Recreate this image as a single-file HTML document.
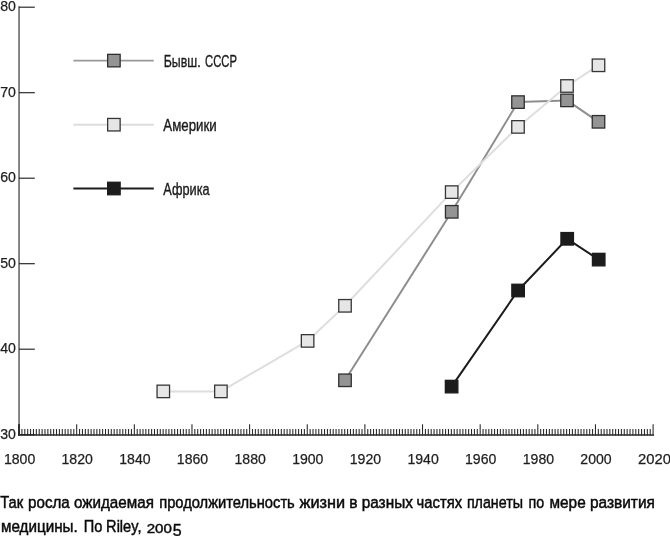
<!DOCTYPE html>
<html><head><meta charset="utf-8"><title>chart</title>
<style>
html,body{margin:0;padding:0;background:#fff;}
svg{display:block;will-change:transform;}
text{font-family:"Liberation Sans",sans-serif;}
</style></head><body>
<svg width="670" height="536" viewBox="0 0 670 536">
<rect width="670" height="536" fill="#fff"/>

<line x1="19.05" y1="6.3" x2="19.05" y2="435.5" stroke="#787878" stroke-width="1.8"/>
<line x1="18.1" y1="435.0" x2="654" y2="435.0" stroke="#2a2a2a" stroke-width="1.5"/>
<line x1="19" y1="434.70" x2="34.8" y2="434.70" stroke="#222" stroke-width="1.15"/>
<line x1="19" y1="349.20" x2="34.8" y2="349.20" stroke="#222" stroke-width="1.15"/>
<line x1="19" y1="263.70" x2="34.8" y2="263.70" stroke="#222" stroke-width="1.15"/>
<line x1="19" y1="178.20" x2="34.8" y2="178.20" stroke="#222" stroke-width="1.15"/>
<line x1="19" y1="92.70" x2="34.8" y2="92.70" stroke="#222" stroke-width="1.15"/>
<line x1="19" y1="7.20" x2="34.8" y2="7.20" stroke="#222" stroke-width="1.15"/>
<path d="M19.05 424.2V435.5M21.93 428.9V435.5M24.81 428.9V435.5M27.70 428.9V435.5M30.58 428.9V435.5M33.46 428.9V435.5M36.34 428.9V435.5M39.22 428.9V435.5M42.11 428.9V435.5M44.99 428.9V435.5M47.87 428.9V435.5M50.75 428.9V435.5M53.63 428.9V435.5M56.52 428.9V435.5M59.40 428.9V435.5M62.28 428.9V435.5M65.16 428.9V435.5M68.04 428.9V435.5M70.93 428.9V435.5M73.81 428.9V435.5M76.69 424.2V435.5M79.57 428.9V435.5M82.45 428.9V435.5M85.34 428.9V435.5M88.22 428.9V435.5M91.10 428.9V435.5M93.98 428.9V435.5M96.86 428.9V435.5M99.75 428.9V435.5M102.63 428.9V435.5M105.51 428.9V435.5M108.39 428.9V435.5M111.27 428.9V435.5M114.16 428.9V435.5M117.04 428.9V435.5M119.92 428.9V435.5M122.80 428.9V435.5M125.68 428.9V435.5M128.57 428.9V435.5M131.45 428.9V435.5M134.33 424.2V435.5M137.21 428.9V435.5M140.09 428.9V435.5M142.98 428.9V435.5M145.86 428.9V435.5M148.74 428.9V435.5M151.62 428.9V435.5M154.50 428.9V435.5M157.39 428.9V435.5M160.27 428.9V435.5M163.15 428.9V435.5M166.03 428.9V435.5M168.91 428.9V435.5M171.80 428.9V435.5M174.68 428.9V435.5M177.56 428.9V435.5M180.44 428.9V435.5M183.32 428.9V435.5M186.21 428.9V435.5M189.09 428.9V435.5M191.97 424.2V435.5M194.85 428.9V435.5M197.73 428.9V435.5M200.62 428.9V435.5M203.50 428.9V435.5M206.38 428.9V435.5M209.26 428.9V435.5M212.14 428.9V435.5M215.03 428.9V435.5M217.91 428.9V435.5M220.79 428.9V435.5M223.67 428.9V435.5M226.55 428.9V435.5M229.44 428.9V435.5M232.32 428.9V435.5M235.20 428.9V435.5M238.08 428.9V435.5M240.96 428.9V435.5M243.85 428.9V435.5M246.73 428.9V435.5M249.61 424.2V435.5M252.49 428.9V435.5M255.37 428.9V435.5M258.26 428.9V435.5M261.14 428.9V435.5M264.02 428.9V435.5M266.90 428.9V435.5M269.78 428.9V435.5M272.67 428.9V435.5M275.55 428.9V435.5M278.43 428.9V435.5M281.31 428.9V435.5M284.19 428.9V435.5M287.08 428.9V435.5M289.96 428.9V435.5M292.84 428.9V435.5M295.72 428.9V435.5M298.60 428.9V435.5M301.49 428.9V435.5M304.37 428.9V435.5M307.25 424.2V435.5M310.13 428.9V435.5M313.01 428.9V435.5M315.90 428.9V435.5M318.78 428.9V435.5M321.66 428.9V435.5M324.54 428.9V435.5M327.42 428.9V435.5M330.31 428.9V435.5M333.19 428.9V435.5M336.07 428.9V435.5M338.95 428.9V435.5M341.83 428.9V435.5M344.72 428.9V435.5M347.60 428.9V435.5M350.48 428.9V435.5M353.36 428.9V435.5M356.24 428.9V435.5M359.13 428.9V435.5M362.01 428.9V435.5M364.89 424.2V435.5M367.77 428.9V435.5M370.65 428.9V435.5M373.54 428.9V435.5M376.42 428.9V435.5M379.30 428.9V435.5M382.18 428.9V435.5M385.06 428.9V435.5M387.95 428.9V435.5M390.83 428.9V435.5M393.71 428.9V435.5M396.59 428.9V435.5M399.47 428.9V435.5M402.36 428.9V435.5M405.24 428.9V435.5M408.12 428.9V435.5M411.00 428.9V435.5M413.88 428.9V435.5M416.77 428.9V435.5M419.65 428.9V435.5M422.53 424.2V435.5M425.41 428.9V435.5M428.29 428.9V435.5M431.18 428.9V435.5M434.06 428.9V435.5M436.94 428.9V435.5M439.82 428.9V435.5M442.70 428.9V435.5M445.59 428.9V435.5M448.47 428.9V435.5M451.35 428.9V435.5M454.23 428.9V435.5M457.11 428.9V435.5M460.00 428.9V435.5M462.88 428.9V435.5M465.76 428.9V435.5M468.64 428.9V435.5M471.52 428.9V435.5M474.41 428.9V435.5M477.29 428.9V435.5M480.17 424.2V435.5M483.05 428.9V435.5M485.93 428.9V435.5M488.82 428.9V435.5M491.70 428.9V435.5M494.58 428.9V435.5M497.46 428.9V435.5M500.34 428.9V435.5M503.23 428.9V435.5M506.11 428.9V435.5M508.99 428.9V435.5M511.87 428.9V435.5M514.75 428.9V435.5M517.64 428.9V435.5M520.52 428.9V435.5M523.40 428.9V435.5M526.28 428.9V435.5M529.16 428.9V435.5M532.05 428.9V435.5M534.93 428.9V435.5M537.81 424.2V435.5M540.69 428.9V435.5M543.57 428.9V435.5M546.46 428.9V435.5M549.34 428.9V435.5M552.22 428.9V435.5M555.10 428.9V435.5M557.98 428.9V435.5M560.87 428.9V435.5M563.75 428.9V435.5M566.63 428.9V435.5M569.51 428.9V435.5M572.39 428.9V435.5M575.28 428.9V435.5M578.16 428.9V435.5M581.04 428.9V435.5M583.92 428.9V435.5M586.80 428.9V435.5M589.69 428.9V435.5M592.57 428.9V435.5M595.45 424.2V435.5M598.33 428.9V435.5M601.21 428.9V435.5M604.10 428.9V435.5M606.98 428.9V435.5M609.86 428.9V435.5M612.74 428.9V435.5M615.62 428.9V435.5M618.51 428.9V435.5M621.39 428.9V435.5M624.27 428.9V435.5M627.15 428.9V435.5M630.03 428.9V435.5M632.92 428.9V435.5M635.80 428.9V435.5M638.68 428.9V435.5M641.56 428.9V435.5M644.44 428.9V435.5M647.33 428.9V435.5M650.21 428.9V435.5M653.09 424.2V435.5" stroke="#262626" stroke-width="1.05" fill="none"/>
<line x1="19.05" y1="424.2" x2="19.05" y2="435.6" stroke="#2a2a2a" stroke-width="1.8"/>
<text x="0.2" y="438.7" font-size="15.2" fill="#1e1e1e" stroke="#1e1e1e" stroke-width="0.25" textLength="15.7" lengthAdjust="spacingAndGlyphs">30</text>
<text x="0.2" y="353.2" font-size="15.2" fill="#1e1e1e" stroke="#1e1e1e" stroke-width="0.25" textLength="15.7" lengthAdjust="spacingAndGlyphs">40</text>
<text x="0.2" y="267.7" font-size="15.2" fill="#1e1e1e" stroke="#1e1e1e" stroke-width="0.25" textLength="15.7" lengthAdjust="spacingAndGlyphs">50</text>
<text x="0.2" y="182.2" font-size="15.2" fill="#1e1e1e" stroke="#1e1e1e" stroke-width="0.25" textLength="15.7" lengthAdjust="spacingAndGlyphs">60</text>
<text x="0.2" y="96.7" font-size="15.2" fill="#1e1e1e" stroke="#1e1e1e" stroke-width="0.25" textLength="15.7" lengthAdjust="spacingAndGlyphs">70</text>
<text x="0.2" y="11.2" font-size="15.2" fill="#1e1e1e" stroke="#1e1e1e" stroke-width="0.25" textLength="15.7" lengthAdjust="spacingAndGlyphs">80</text>
<text x="19.6" y="464" font-size="14.8" fill="#1e1e1e" stroke="#1e1e1e" stroke-width="0.25" text-anchor="middle" textLength="31.3" lengthAdjust="spacingAndGlyphs">1800</text>
<text x="77.2" y="464" font-size="14.8" fill="#1e1e1e" stroke="#1e1e1e" stroke-width="0.25" text-anchor="middle" textLength="31.3" lengthAdjust="spacingAndGlyphs">1820</text>
<text x="134.9" y="464" font-size="14.8" fill="#1e1e1e" stroke="#1e1e1e" stroke-width="0.25" text-anchor="middle" textLength="31.3" lengthAdjust="spacingAndGlyphs">1840</text>
<text x="192.5" y="464" font-size="14.8" fill="#1e1e1e" stroke="#1e1e1e" stroke-width="0.25" text-anchor="middle" textLength="31.3" lengthAdjust="spacingAndGlyphs">1860</text>
<text x="250.2" y="464" font-size="14.8" fill="#1e1e1e" stroke="#1e1e1e" stroke-width="0.25" text-anchor="middle" textLength="31.3" lengthAdjust="spacingAndGlyphs">1880</text>
<text x="307.8" y="464" font-size="14.8" fill="#1e1e1e" stroke="#1e1e1e" stroke-width="0.25" text-anchor="middle" textLength="31.3" lengthAdjust="spacingAndGlyphs">1900</text>
<text x="365.4" y="464" font-size="14.8" fill="#1e1e1e" stroke="#1e1e1e" stroke-width="0.25" text-anchor="middle" textLength="31.3" lengthAdjust="spacingAndGlyphs">1920</text>
<text x="423.1" y="464" font-size="14.8" fill="#1e1e1e" stroke="#1e1e1e" stroke-width="0.25" text-anchor="middle" textLength="31.3" lengthAdjust="spacingAndGlyphs">1940</text>
<text x="480.7" y="464" font-size="14.8" fill="#1e1e1e" stroke="#1e1e1e" stroke-width="0.25" text-anchor="middle" textLength="31.3" lengthAdjust="spacingAndGlyphs">1960</text>
<text x="538.4" y="464" font-size="14.8" fill="#1e1e1e" stroke="#1e1e1e" stroke-width="0.25" text-anchor="middle" textLength="31.3" lengthAdjust="spacingAndGlyphs">1980</text>
<text x="596.0" y="464" font-size="14.8" fill="#1e1e1e" stroke="#1e1e1e" stroke-width="0.25" text-anchor="middle" textLength="31.3" lengthAdjust="spacingAndGlyphs">2000</text>
<text x="638.0" y="464" font-size="14.8" fill="#1e1e1e" stroke="#1e1e1e" stroke-width="0.25" textLength="33" lengthAdjust="spacingAndGlyphs">2020</text>
<polyline points="345,380.3 451.7,211.8 518,102.1 567,100.4 598.5,121.8" fill="none" stroke="#8e8e8e" stroke-width="2" stroke-linejoin="round"/>
<polyline points="163.3,391.4 220.9,391.4 307.6,340.9 345,305.8 451.7,192.1 518,126.9 567,86 598.5,65.3" fill="none" stroke="#dedede" stroke-width="2" stroke-linejoin="round"/>
<polyline points="451.6,386.6 518.1,290.5 567.2,238.8 598.7,259.6" fill="none" stroke="#1c1c1c" stroke-width="2" stroke-linejoin="round"/>
<rect x="157.05" y="385.15" width="12.5" height="12.5" fill="#e6e6e6" stroke="#363636" stroke-width="1.3"/><rect x="214.65" y="385.15" width="12.5" height="12.5" fill="#e6e6e6" stroke="#363636" stroke-width="1.3"/><rect x="301.35" y="334.65" width="12.5" height="12.5" fill="#e6e6e6" stroke="#363636" stroke-width="1.3"/><rect x="338.75" y="299.55" width="12.5" height="12.5" fill="#e6e6e6" stroke="#363636" stroke-width="1.3"/><rect x="445.45" y="185.85" width="12.5" height="12.5" fill="#e6e6e6" stroke="#363636" stroke-width="1.3"/><rect x="511.75" y="120.65" width="12.5" height="12.5" fill="#e6e6e6" stroke="#363636" stroke-width="1.3"/><rect x="560.75" y="79.75" width="12.5" height="12.5" fill="#e6e6e6" stroke="#363636" stroke-width="1.3"/><rect x="592.25" y="59.05" width="12.5" height="12.5" fill="#e6e6e6" stroke="#363636" stroke-width="1.3"/>
<rect x="338.75" y="374.05" width="12.5" height="12.5" fill="#949494" stroke="#2e2e2e" stroke-width="1.3"/><rect x="445.45" y="205.55" width="12.5" height="12.5" fill="#949494" stroke="#2e2e2e" stroke-width="1.3"/><rect x="511.75" y="95.85" width="12.5" height="12.5" fill="#949494" stroke="#2e2e2e" stroke-width="1.3"/><rect x="560.75" y="94.15" width="12.5" height="12.5" fill="#949494" stroke="#2e2e2e" stroke-width="1.3"/><rect x="592.25" y="115.55" width="12.5" height="12.5" fill="#949494" stroke="#2e2e2e" stroke-width="1.3"/>
<rect x="445.35" y="380.35" width="12.5" height="12.5" fill="#1c1c1c" stroke="#1c1c1c" stroke-width="1.3"/><rect x="511.85" y="284.25" width="12.5" height="12.5" fill="#1c1c1c" stroke="#1c1c1c" stroke-width="1.3"/><rect x="560.95" y="232.55" width="12.5" height="12.5" fill="#1c1c1c" stroke="#1c1c1c" stroke-width="1.3"/><rect x="592.45" y="253.35" width="12.5" height="12.5" fill="#1c1c1c" stroke="#1c1c1c" stroke-width="1.3"/>
<line x1="73.4" y1="60.6" x2="153.8" y2="60.6" stroke="#999" stroke-width="1.9"/>
<rect x="107.65" y="54.35" width="12.5" height="12.5" fill="#949494" stroke="#2e2e2e" stroke-width="1.3"/>
<text x="163.7" y="66.8" font-size="15.8" fill="#1a1a1a" stroke="#1a1a1a" stroke-width="0.35" textLength="36.9" lengthAdjust="spacingAndGlyphs">Бывш.</text>
<text x="205.1" y="66.8" font-size="15.8" fill="#1a1a1a" stroke="#1a1a1a" stroke-width="0.35" textLength="31.9" lengthAdjust="spacingAndGlyphs">СССР</text>
<line x1="73.4" y1="124.7" x2="153.8" y2="124.7" stroke="#dcdcdc" stroke-width="1.9"/>
<rect x="107.65" y="118.45" width="12.5" height="12.5" fill="#e6e6e6" stroke="#363636" stroke-width="1.3"/>
<text x="163.3" y="130.9" font-size="15.8" fill="#1a1a1a" stroke="#1a1a1a" stroke-width="0.35" textLength="53.4" lengthAdjust="spacingAndGlyphs">Америки</text>
<line x1="73.4" y1="188.5" x2="153.8" y2="188.5" stroke="#1c1c1c" stroke-width="1.9"/>
<rect x="107.65" y="182.25" width="12.5" height="12.5" fill="#1c1c1c" stroke="#1c1c1c" stroke-width="1.3"/>
<text x="163.3" y="194.7" font-size="15.8" fill="#1a1a1a" stroke="#1a1a1a" stroke-width="0.35" textLength="46.3" lengthAdjust="spacingAndGlyphs">Африка</text>
<text x="0.2" y="507.5" font-size="17.4" fill="#0a0a0a" stroke="#0a0a0a" stroke-width="0.5" textLength="22.9" lengthAdjust="spacingAndGlyphs">Так</text>
<text x="28.1" y="507.5" font-size="17.4" fill="#0a0a0a" stroke="#0a0a0a" stroke-width="0.5" textLength="41.7" lengthAdjust="spacingAndGlyphs">росла</text>
<text x="74.0" y="507.5" font-size="17.4" fill="#0a0a0a" stroke="#0a0a0a" stroke-width="0.5" textLength="79.9" lengthAdjust="spacingAndGlyphs">ожидаемая</text>
<text x="159.2" y="507.5" font-size="17.4" fill="#0a0a0a" stroke="#0a0a0a" stroke-width="0.5" textLength="135.6" lengthAdjust="spacingAndGlyphs">продолжительность</text>
<text x="299.5" y="507.5" font-size="17.4" fill="#0a0a0a" stroke="#0a0a0a" stroke-width="0.5" textLength="45.6" lengthAdjust="spacingAndGlyphs">жизни</text>
<text x="349.2" y="507.5" font-size="17.4" fill="#0a0a0a" stroke="#0a0a0a" stroke-width="0.5" textLength="8.3" lengthAdjust="spacingAndGlyphs">в</text>
<text x="361.7" y="507.5" font-size="17.4" fill="#0a0a0a" stroke="#0a0a0a" stroke-width="0.5" textLength="51.2" lengthAdjust="spacingAndGlyphs">разных</text>
<text x="416.6" y="507.5" font-size="17.4" fill="#0a0a0a" stroke="#0a0a0a" stroke-width="0.5" textLength="45.5" lengthAdjust="spacingAndGlyphs">частях</text>
<text x="466.9" y="507.5" font-size="17.4" fill="#0a0a0a" stroke="#0a0a0a" stroke-width="0.5" textLength="56.1" lengthAdjust="spacingAndGlyphs">планеты</text>
<text x="528.6" y="507.5" font-size="17.4" fill="#0a0a0a" stroke="#0a0a0a" stroke-width="0.5" textLength="15.6" lengthAdjust="spacingAndGlyphs">по</text>
<text x="549.5" y="507.5" font-size="17.4" fill="#0a0a0a" stroke="#0a0a0a" stroke-width="0.5" textLength="36.2" lengthAdjust="spacingAndGlyphs">мере</text>
<text x="589.9" y="507.5" font-size="17.4" fill="#0a0a0a" stroke="#0a0a0a" stroke-width="0.5" textLength="65.0" lengthAdjust="spacingAndGlyphs">развития</text>
<text x="1.0" y="532.4" font-size="17.4" fill="#0a0a0a" stroke="#0a0a0a" stroke-width="0.5" textLength="76.7" lengthAdjust="spacingAndGlyphs">медицины.</text>
<text x="83.7" y="532.4" font-size="17.4" fill="#0a0a0a" stroke="#0a0a0a" stroke-width="0.5" textLength="18.6" lengthAdjust="spacingAndGlyphs">По</text>
<text x="106.1" y="532.4" font-size="17.4" fill="#0a0a0a" stroke="#0a0a0a" stroke-width="0.5" textLength="35.4" lengthAdjust="spacingAndGlyphs">Riley,</text>
<text x="146.7" y="532.5" font-size="12.2" fill="#0a0a0a" stroke="#0a0a0a" stroke-width="0.4" textLength="25.2" lengthAdjust="spacingAndGlyphs">200</text>
<text x="172.7" y="535.5" font-size="16" fill="#0a0a0a" stroke="#0a0a0a" stroke-width="0.4" textLength="8.9" lengthAdjust="spacingAndGlyphs">5</text>
</svg></body></html>
